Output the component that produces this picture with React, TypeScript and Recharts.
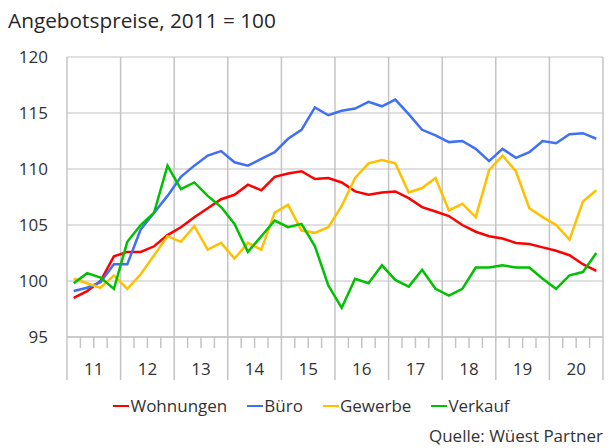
import React from "react";
import { LineChart, Line, XAxis, YAxis, CartesianGrid, ReferenceLine, Legend } from "recharts";

// 2011 Q1 .. 2020 Q4
const years = ["11", "12", "13", "14", "15", "16", "17", "18", "19", "20"];
const wohnungen = [
  98.5, 99.1, 100.0, 102.2, 102.6, 102.6, 103.1, 104.1, 104.8, 105.7,
  106.5, 107.3, 107.7, 108.6, 108.1, 109.3, 109.6, 109.8, 109.1, 109.2,
  108.8, 108.0, 107.7, 107.9, 108.0, 107.4, 106.6, 106.2, 105.8, 105.0,
  104.4, 104.0, 103.8, 103.4, 103.3, 103.0, 102.7, 102.3, 101.5, 100.9,
];
const buero = [
  99.1, 99.4, 99.9, 101.5, 101.5, 104.6, 106.1, 107.6, 109.3, 110.3,
  111.2, 111.6, 110.6, 110.3, 110.9, 111.5, 112.7, 113.5, 115.5, 114.8,
  115.2, 115.4, 116.0, 115.6, 116.2, 114.9, 113.5, 113.0, 112.4, 112.5,
  111.8, 110.7, 111.8, 111.0, 111.5, 112.5, 112.3, 113.1, 113.2, 112.7,
];
const gewerbe = [
  100.2, 99.8, 99.4, 100.5, 99.3, 100.6, 102.3, 104.0, 103.5, 104.9,
  102.8, 103.4, 102.0, 103.4, 102.8, 106.1, 106.8, 104.5, 104.3, 104.8,
  106.7, 109.2, 110.5, 110.8, 110.5, 107.9, 108.3, 109.2, 106.3, 106.9,
  105.7, 109.9, 111.2, 109.8, 106.5, 105.7, 105.0, 103.7, 107.1, 108.1,
];
const verkauf = [
  99.8, 100.7, 100.3, 99.3, 103.5, 105.0, 106.1, 110.3, 108.2, 108.8,
  107.6, 106.6, 105.1, 102.6, 104.0, 105.4, 104.8, 105.1, 103.1, 99.6,
  97.6, 100.2, 99.8, 101.4, 100.1, 99.5, 101.0, 99.3, 98.7, 99.3,
  101.2, 101.2, 101.4, 101.2, 101.2, 100.2, 99.3, 100.5, 100.8, 102.5,
];
const yTicks = [95, 100, 105, 110, 115, 120];
const seriesNames = ["Wohnungen", "Büro", "Gewerbe", "Verkauf"];
const seriesColors = ["#ff0000", "#3f6ff5", "#ffc000", "#00c000"];
const seriesKeys = ["w", "b", "g", "v"];

const data = wohnungen.map((_, i) => ({
  x: i + 0.5,
  w: wohnungen[i],
  b: buero[i],
  g: gewerbe[i],
  v: verkauf[i],
}));

const quarterTicks = Array.from({ length: years.length * 4 + 1 }, (_, i) => i);
const yearBounds = Array.from({ length: years.length }, (_, i) => (i + 1) * 4);

const FONT = "'Open Sans', sans-serif";
const TEXT = "#333333";

const XTick = (props: any) => {
  const { x, y, payload } = props;
  const v = payload.value as number;
  const isYear = v % 4 === 0;
  const yearIdx = Math.floor(v / 4);
  const showLabel = v % 4 === 2 && yearIdx < years.length;
  return (
    <g>
      <line x1={x} x2={x} y1={y} y2={y + (isYear ? 43 : 11)} stroke="#c4c4c4" strokeWidth={1.5} />
      {showLabel && (
        <text x={x} y={y + 38} textAnchor="middle" fontSize={17} fontFamily={FONT} fill={TEXT}>
          {years[yearIdx]}
        </text>
      )}
    </g>
  );
};

const renderLegend = () => (
  <div style={{ display: "flex", justifyContent: "center", paddingLeft: 20, fontFamily: FONT, fontSize: 17, color: TEXT, height: 20, lineHeight: "20px" }}>
    {seriesNames.map((n, i) => (
      <div key={n} style={{ display: "flex", alignItems: "center", marginRight: i < 3 ? 20 : 0 }}>
        <div style={{ width: 16, height: 2.5, background: seriesColors[i], marginRight: 1 }} />
        <span>{n}</span>
      </div>
    ))}
  </div>
);

export default function App() {
  return (
    <div style={{ position: "absolute", left: 0, top: 0, width: 615, height: 448, background: "#fff" }}>
      <div style={{ position: "absolute", left: 8, top: 6, fontFamily: FONT, fontSize: 20.8, color: "#262626", whiteSpace: "nowrap", lineHeight: "normal" }}>
        Angebotspreise, 2011 = 100
      </div>
      <LineChart width={615} height={448} data={data} margin={{ top: 57, right: 12, left: 0, bottom: 32 }}>
        <CartesianGrid vertical={false} stroke="#d6d6d6" strokeWidth={1.6} />
        <XAxis
          dataKey="x"
          type="number"
          domain={[0, 40]}
          ticks={quarterTicks}
          interval={0}
          tick={<XTick />}
          tickLine={false}
          tickSize={0}
          tickMargin={0}
          height={59}
          axisLine={{ stroke: "#c4c4c4", strokeWidth: 1.5 }}
        />
        <YAxis
          domain={[95, 120]}
          ticks={yTicks}
          width={67}
          tickLine={false}
          tickSize={0}
          tickMargin={19}
          axisLine={{ stroke: "#c4c4c4", strokeWidth: 1.5 }}
          tick={{ fontSize: 17, fontFamily: FONT, fill: TEXT }}
        />
        {yearBounds.map((v) => (
          <ReferenceLine key={v} x={v} stroke="#c4c4c4" strokeWidth={1.5} />
        ))}
        <Legend verticalAlign="bottom" content={renderLegend} wrapperStyle={{ height: 20 }} />
        {seriesKeys.map((k, i) => (
          <Line key={k} type="linear" dataKey={k} name={seriesNames[i]} stroke={seriesColors[i]} strokeWidth={2.5} dot={false} isAnimationActive={false} />
        ))}
      </LineChart>
      <div style={{ position: "absolute", right: 12, top: 424, fontFamily: FONT, fontSize: 17, color: TEXT, whiteSpace: "nowrap" }}>
        Quelle: Wüest Partner
      </div>
    </div>
  );
}
